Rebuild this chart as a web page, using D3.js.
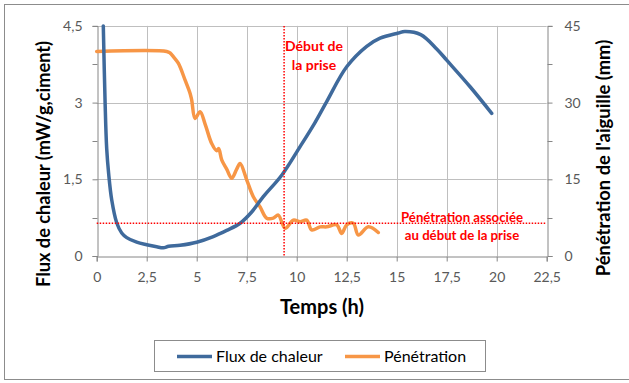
<!DOCTYPE html>
<html>
<head>
<meta charset="utf-8">
<script src="https://cdn.jsdelivr.net/npm/d3@7"></script>
<style>
  html, body { margin: 0; padding: 0; background: #fff; }
  svg { display: block; font-family: Lato, "Open Sans", sans-serif; }
</style>
</head>
<body>
<svg id="chart" width="629" height="383"></svg>
<script>
// Heat flux (left axis, mW/g ciment) against time (h)
const fluxTime = [0.33, 0.42, 0.5, 0.6, 0.75, 1.0, 1.25, 1.5, 2.0, 2.5, 3.0, 3.33, 3.6, 4.17, 5.0, 5.83, 6.5, 7.17, 7.75, 8.33, 9.25, 10.17, 10.9, 11.5, 12.5, 13.5, 14.17, 15.08, 15.4, 16.2, 17.0, 17.5, 18.67, 19.75];
const fluxValue = [4.5, 3.0, 2.1, 1.6, 1.1, 0.65, 0.45, 0.36, 0.27, 0.22, 0.18, 0.16, 0.19, 0.21, 0.27, 0.38, 0.5, 0.64, 0.86, 1.16, 1.58, 2.14, 2.6, 3.02, 3.7, 4.1, 4.26, 4.36, 4.39, 4.33, 4.05, 3.83, 3.31, 2.79];

// Needle penetration (right axis, mm) against time (h)
const penTime = [0, 3.5, 3.67, 3.83, 4.08, 4.42, 4.67, 4.75, 4.92, 5.17, 5.42, 5.75, 6.0, 6.1, 6.25, 6.5, 6.75, 7.0, 7.17, 7.5, 7.83, 8.17, 8.5, 8.83, 9.08, 9.42, 9.83, 10.17, 10.5, 10.75, 11.17, 11.5, 12.0, 12.25, 12.5, 12.83, 13.08, 13.58, 14.08];
const penValue = [40, 40, 39.7, 39.0, 37.7, 34.4, 31.8, 30.5, 26.9, 28.2, 25.8, 22.0, 20.6, 21.0, 18.8, 17.0, 15.2, 17.0, 18.1, 14.9, 11.6, 9.6, 7.4, 7.4, 8.0, 5.4, 7.0, 6.7, 7.0, 5.1, 5.7, 5.7, 6.1, 4.4, 6.1, 6.4, 4.1, 5.7, 4.6];

// Setting time and the matching penetration
const settingTime = 9.37;
const settingPenetration = 6.4;

const xTicks = [0, 2.5, 5, 7.5, 10, 12.5, 15, 17.5, 20, 22.5];
const leftTicks = [0, 1.5, 3, 4.5];
const rightTicks = [0, 15, 30, 45];

const seriesNames = ["Flux de chaleur", "Pénétration"];
const seriesColors = ["#3f6a9c", "#f79646"];

const fmt = v => String(v).replace(".", ",");

const svg = d3.select("#chart");
const plot = { left: 96.7, right: 546.7, top: 25.9, bottom: 256 };

const x = d3.scaleLinear().domain([0, 22.5]).range([plot.left, plot.right]);
const yL = d3.scaleLinear().domain([0, 4.5]).range([plot.bottom, plot.top]);
const yR = d3.scaleLinear().domain([0, 45]).range([plot.bottom, plot.top]);

// outer frame
svg.append("rect").attr("x", 4.5).attr("y", 4.5).attr("width", 640).attr("height", 375)
  .attr("fill", "#fff").attr("stroke", "#8c8c8c").attr("stroke-width", 1);

// gridlines
const grid = svg.append("g").attr("stroke", "#bfbfbf").attr("stroke-width", 1);
xTicks.slice(1, -1).forEach(t => {
  grid.append("line").attr("x1", Math.round(x(t)) + 0.5).attr("x2", Math.round(x(t)) + 0.5)
    .attr("y1", plot.top).attr("y2", plot.bottom);
});
leftTicks.slice(1).forEach(t => {
  grid.append("line").attr("x1", plot.left).attr("x2", plot.right)
    .attr("y1", Math.round(yL(t)) + 0.5).attr("y2", Math.round(yL(t)) + 0.5);
});

// axes
const axisColor = "#868686";
const labelColor = "#595959";

const xAxis = svg.append("g").attr("transform", `translate(0,${Math.round(plot.bottom) + 0.5})`)
  .call(d3.axisBottom(x).tickValues(xTicks).tickFormat(fmt).tickSize(5).tickPadding(11));
const leftAxis = svg.append("g").attr("transform", `translate(${Math.round(plot.left) + 0.5},0)`)
  .call(d3.axisLeft(yL).tickValues(leftTicks).tickFormat(fmt).tickSize(5).tickPadding(10));
const rightAxis = svg.append("g").attr("transform", `translate(${Math.round(plot.right) + 0.5},0)`)
  .call(d3.axisRight(yR).tickValues(rightTicks).tickFormat(fmt).tickSize(5).tickPadding(12));

// minor ticks on the value axes
leftAxis.selectAll(".minor").data([0.75, 2.25, 3.75]).enter().append("line")
  .attr("class", "minor").attr("x1", -5).attr("x2", 0)
  .attr("y1", d => Math.round(yL(d)) + 0.5).attr("y2", d => Math.round(yL(d)) + 0.5);
rightAxis.selectAll(".minor").data([7.5, 22.5, 37.5]).enter().append("line")
  .attr("class", "minor").attr("x1", 0).attr("x2", 5)
  .attr("y1", d => Math.round(yR(d)) + 0.5).attr("y2", d => Math.round(yR(d)) + 0.5);

[xAxis, leftAxis, rightAxis].forEach(g => {
  g.select(".domain").attr("stroke", axisColor);
  g.selectAll("line").attr("stroke", axisColor);
  g.selectAll("text").attr("fill", labelColor).style("font-size", "14px").style("font-family", "Lato, sans-serif");
});

// series
const lineFlux = d3.line().x(d => x(d[0])).y(d => yL(d[1])).curve(d3.curveCatmullRom.alpha(0.5));
const linePen = d3.line().x(d => x(d[0])).y(d => yR(d[1])).curve(d3.curveCatmullRom.alpha(0.5));

svg.append("path").datum(penTime.map((t, i) => [t, penValue[i]]))
  .attr("d", linePen).attr("fill", "none").attr("stroke", seriesColors[1])
  .attr("stroke-width", 3.5).attr("stroke-linejoin", "round").attr("stroke-linecap", "round");

svg.append("path").datum(fluxTime.map((t, i) => [t, fluxValue[i]]))
  .attr("d", lineFlux).attr("fill", "none").attr("stroke", seriesColors[0])
  .attr("stroke-width", 3.5).attr("stroke-linejoin", "round").attr("stroke-linecap", "round");

// setting markers
const red = "#ff0000";
svg.append("line").attr("x1", x(settingTime)).attr("x2", x(settingTime))
  .attr("y1", plot.top).attr("y2", plot.bottom)
  .attr("stroke", red).attr("stroke-width", 1.5).attr("stroke-dasharray", "1.5,1.5");
svg.append("line").attr("x1", plot.left).attr("x2", plot.right)
  .attr("y1", yR(settingPenetration)).attr("y2", yR(settingPenetration))
  .attr("stroke", red).attr("stroke-width", 1.5).attr("stroke-dasharray", "1.5,1.5");

const note = (lines, cx, cy, size) => {
  const t = svg.append("text").attr("text-anchor", "middle").attr("fill", red)
    .style("font-size", size + "px").style("font-weight", "bold");
  lines.forEach((s, i) => t.append("tspan").attr("x", cx).attr("y", cy + i * 18.5).text(s));
};
note(["Début de", "la prise"], 314, 51, 14);
note(["Pénétration associée", "au début de la prise"], 462, 221.5, 13.2);

// axis titles
svg.append("text").attr("x", 322).attr("y", 314).attr("text-anchor", "middle")
  .style("font-size", "20px").style("font-weight", "bold").attr("fill", "#000").text("Temps (h)");
svg.append("text").attr("transform", "translate(50,164) rotate(-90)").attr("text-anchor", "middle")
  .style("font-size", "18.2px").style("font-weight", "bold").attr("fill", "#000").text("Flux de chaleur (mW/g,ciment)");
svg.append("text").attr("transform", "translate(610,158) rotate(-90)").attr("text-anchor", "middle")
  .style("font-size", "18.4px").style("font-weight", "bold").attr("fill", "#000").text("Pénétration de l'aiguille (mm)");

// legend
const legend = svg.append("g");
legend.append("rect").attr("x", 154.5).attr("y", 340.5).attr("width", 331).attr("height", 31)
  .attr("fill", "#fff").attr("stroke", "#8c8c8c");
const legendX = [177, 345];
seriesNames.forEach((name, i) => {
  legend.append("line").attr("x1", legendX[i]).attr("x2", legendX[i] + 35)
    .attr("y1", 356.5).attr("y2", 356.5).attr("stroke", seriesColors[i]).attr("stroke-width", 3.5);
  legend.append("text").attr("x", legendX[i] + 39).attr("y", 362)
    .style("font-size", "16px").attr("fill", "#000").text(name);
});
</script>
</body>
</html>
